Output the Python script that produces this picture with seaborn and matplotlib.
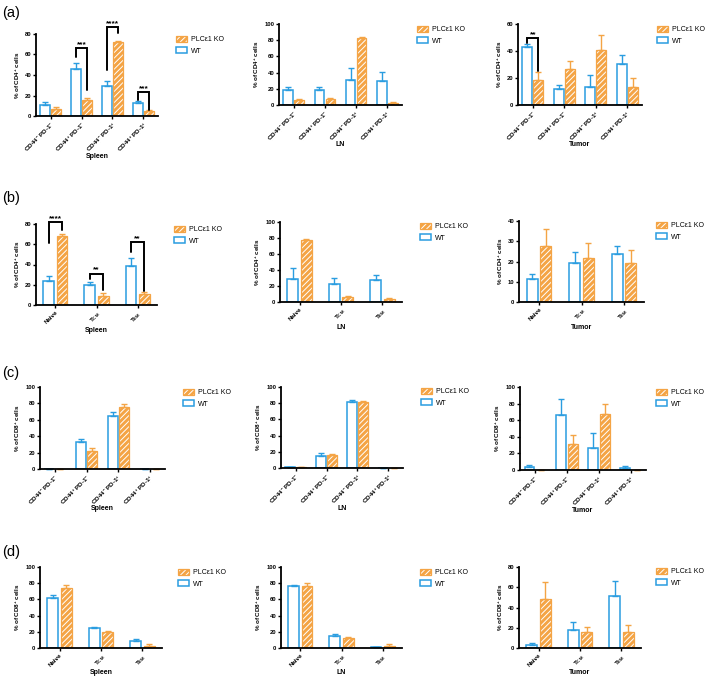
import matplotlib
matplotlib.use('Agg')
import matplotlib.pyplot as plt
import matplotlib.colors as mcolors
from matplotlib.patches import Patch
import numpy as np
import pandas as pd
import seaborn as sns

sns.set_style('ticks', {'axes.edgecolor': 'black', 'xtick.color': 'black', 'ytick.color': 'black',
                        'text.color': 'black', 'axes.labelcolor': 'black'})
plt.rcParams['font.family'] = ['Liberation Sans', 'DejaVu Sans']
plt.rcParams['mathtext.fontset'] = 'custom'
plt.rcParams['mathtext.rm'] = 'Liberation Sans'
plt.rcParams['mathtext.bf'] = 'Liberation Sans:bold'
plt.rcParams['mathtext.default'] = 'bf'
plt.rcParams['hatch.linewidth'] = 0.7

BLUE = '#2a9de0'
ORANGE = '#f4a445'

# categories
pd1_cats = [r'CD44$^{-}$ PD-1$^{-}$', r'CD44$^{+}$ PD-1$^{-}$',
            r'CD44$^{-}$ PD-1$^{+}$', r'CD44$^{+}$ PD-1$^{+}$']
tcell_cats = ['Naive', r'T$_{CM}$', r'T$_{EM}$']
groups = ['WT', 'PLCε1 KO']

# (a) CD4+ CD44/PD-1 subsets
a_spleen_wt = [10.5, 46, 29, 12.8]
a_spleen_wt_err = [3.3, 6, 5, 1.9]
a_spleen_ko = [7.2, 16, 71.8, 4.6]
a_spleen_ko_err = [1.6, 1.7, 1.2, 1]
a_ln_wt = [18.4, 18.9, 31, 29.5]
a_ln_wt_err = [3.7, 3.6, 15, 11.5]
a_ln_ko = [6.5, 7.4, 82.4, 2.9]
a_ln_ko_err = [1.3, 1.2, 1.2, 0.8]
a_tumor_wt = [43, 11.9, 13.6, 30.6]
a_tumor_wt_err = [2.2, 3, 8.4, 6.7]
a_tumor_ko = [18.3, 26.9, 40.7, 13.3]
a_tumor_ko_err = [6, 5.7, 10.9, 6.4]

# (b) CD4+ naive / memory
b_spleen_wt = [24.1, 19.8, 38.7]
b_spleen_wt_err = [4.7, 2.7, 7.3]
b_spleen_ko = [68.4, 9.3, 10.6]
b_spleen_ko_err = [2, 2.3, 2]
b_ln_wt = [28.9, 22.3, 26.9]
b_ln_wt_err = [13.2, 8.3, 6.6]
b_ln_ko = [78, 6.2, 3.3]
b_ln_ko_err = [1.3, 1.2, 1.2]
b_tumor_wt = [11.2, 19.3, 23.6]
b_tumor_wt_err = [2.4, 5.6, 4.1]
b_tumor_ko = [27.9, 21.5, 19.3]
b_tumor_ko_err = [8, 7.8, 6.3]

# (c) CD8+ CD44/PD-1 subsets
c_spleen_wt = [0, 33, 65, 0]
c_spleen_wt_err = [0, 3.3, 4, 0]
c_spleen_ko = [0.4, 21.8, 75.8, 0]
c_spleen_ko_err = [0, 4, 3.2, 0]
c_ln_wt = [1.2, 15.2, 81.6, 0.4]
c_ln_wt_err = [0.5, 2.8, 2.4, 0.2]
c_ln_ko = [0.8, 16, 82, 0.4]
c_ln_ko_err = [0.3, 0.8, 1.2, 0.2]
c_tumor_wt = [3.2, 66, 26, 2.4]
c_tumor_wt_err = [2.8, 19, 19, 2.4]
c_tumor_ko = [0.3, 31.5, 67.7, 0.3]
c_tumor_ko_err = [0, 11.2, 11.3, 0]

# (d) CD8+ naive / memory
d_spleen_wt = [62, 24.5, 8.6]
d_spleen_wt_err = [3.3, 2, 2.4]
d_spleen_ko = [74.3, 19.6, 2.4]
d_spleen_ko_err = [3.3, 2, 2]
d_ln_wt = [76.1, 14.8, 0.8]
d_ln_wt_err = [2, 2, 0.8]
d_ln_ko = [76.1, 12.3, 2.9]
d_ln_ko_err = [3.7, 1.3, 2]
d_tumor_wt = [2.9, 17.3, 51.6]
d_tumor_wt_err = [1.7, 8.5, 14.4]
d_tumor_ko = [48, 16, 15.4]
d_tumor_ko_err = [16.7, 5, 7.1]

# significance brackets: (category, bracket y, left leg end, right leg end, label)
a_spleen_sig = [(1, 66, 57.5, 25, '***'), (2, 87, 45, 81, '****'), (3, 23.5, 16, 6, '***')]
a_tumor_sig = [(0, 49.6, 46, 25, '**')]
b_spleen_sig = [(0, 82, 61, 74, '****'), (1, 31, 25.5, 15, '**'), (2, 62, 52, 14, '**')]

W, H = 709, 682
fig = plt.figure(figsize=(W / 100, H / 100), dpi=100)


def white_hatch(p, edge):
    p.set_edgecolor(edge)
    if hasattr(p, 'set_hatchcolor'):
        p.set_hatchcolor('white')
    else:
        p._hatch_color = mcolors.to_rgba('white')
    p.stale = True


def panel(rect, cats, wt, wt_err, ko, ko_err, ymax, ystep, tissue, ylab, leg, sig=()):
    l, r, t, b = rect
    ax = fig.add_axes([l / W, 1 - b / H, (r - l) / W, (b - t) / H])
    n = len(cats)
    df = pd.DataFrame({'cat': cats * 2, 'group': [groups[0]] * n + [groups[1]] * n, 'val': wt + ko})
    sns.barplot(data=df, x='cat', y='val', hue='group', order=cats, hue_order=groups,
                palette=[BLUE, ORANGE], saturation=1, errorbar=None, legend=False,
                width=0.7 if n == 4 else 0.65, gap=0.12 if n == 4 else 0.2, ax=ax)
    for p in ax.containers[0]:
        p.set_facecolor('white')
        p.set_edgecolor(BLUE)
        p.set_linewidth(1.1)
    for p in ax.containers[1]:
        p.set_hatch('//////')
        p.set_linewidth(0.9)
        white_hatch(p, ORANGE)

    xw = [p.get_x() + p.get_width() / 2 for p in ax.containers[0]]
    xk = [p.get_x() + p.get_width() / 2 for p in ax.containers[1]]
    ax.errorbar(xw, wt, yerr=[np.zeros(n), wt_err], fmt='none', ecolor=BLUE,
                elinewidth=1, capsize=2.5, capthick=1, clip_on=False)
    ax.errorbar(xk, ko, yerr=[np.zeros(n), ko_err], fmt='none', ecolor=ORANGE,
                elinewidth=1, capsize=2.5, capthick=1, clip_on=False)

    for ci, yl, y1, y2, txt in sig:
        ax.plot([xw[ci], xw[ci], xk[ci], xk[ci]], [y1, yl, yl, y2], color='black', lw=1.4,
                clip_on=False, solid_joinstyle='miter')
        ax.text((xw[ci] + xk[ci]) / 2, yl, txt, ha='center', va='bottom', fontsize=6,
                fontweight='bold', clip_on=False)

    ax.set_xlim(-0.47, n - 1 + 0.47)
    ax.set_ylim(0, ymax)
    ax.set_yticks(np.arange(0, ymax + 1, ystep))
    sns.despine(ax=ax)
    for s in ['left', 'bottom']:
        ax.spines[s].set_linewidth(1.3)
    ax.tick_params(axis='both', direction='out', length=2.5, width=1, labelsize=4.2, pad=1)
    for lbl in ax.get_yticklabels():
        lbl.set_fontweight('bold')
    ax.set_xticks(range(n))
    ax.set_xticklabels(cats, rotation=45, ha='right', rotation_mode='anchor',
                       fontweight='bold', fontsize=4.5)
    ax.set_ylabel(ylab, fontsize=4.5, fontweight='bold', labelpad=2)
    ax.set_xlabel(tissue, fontsize=5, fontweight='bold')
    ax.xaxis.label.set_va('center')
    off = 40 if n == 4 else 25
    ax.xaxis.set_label_coords(0.5, -off / (b - t))

    h_ko = Patch(facecolor=ORANGE, hatch='//////', lw=0.9)
    h_wt = Patch(facecolor='white', edgecolor=BLUE, lw=1.1)
    lg = ax.legend([h_ko, h_wt], [groups[1], groups[0]], loc='upper left',
                   bbox_to_anchor=(leg[0] / W, 1 - (leg[1] - 4) / H), bbox_transform=fig.transFigure,
                   frameon=False, fontsize=5, handlelength=1.6, handleheight=0.85,
                   handletextpad=0.55, labelspacing=0.6, borderpad=0, borderaxespad=0)
    white_hatch(lg.get_patches()[0], ORANGE)
    return ax


cd4 = r'% of CD4$^{+}$ cells'
cd8 = r'% of CD8$^{+}$ cells'

# row (a)
panel((36, 158, 34, 116), pd1_cats, a_spleen_wt, a_spleen_wt_err, a_spleen_ko, a_spleen_ko_err,
      80, 20, 'Spleen', cd4, (176, 40), a_spleen_sig)
panel((279, 402, 24, 105), pd1_cats, a_ln_wt, a_ln_wt_err, a_ln_ko, a_ln_ko_err,
      100, 20, 'LN', cd4, (417, 30))
panel((518, 642, 24, 105), pd1_cats, a_tumor_wt, a_tumor_wt_err, a_tumor_ko, a_tumor_ko_err,
      60, 20, 'Tumor', cd4, (657, 30), a_tumor_sig)

# row (b)
panel((36, 157, 224, 305), tcell_cats, b_spleen_wt, b_spleen_wt_err, b_spleen_ko, b_spleen_ko_err,
      80, 20, 'Spleen', cd4, (174, 230), b_spleen_sig)
panel((280, 402, 222, 302), tcell_cats, b_ln_wt, b_ln_wt_err, b_ln_ko, b_ln_ko_err,
      100, 20, 'LN', cd4, (420, 227))
panel((519, 644, 221, 302), tcell_cats, b_tumor_wt, b_tumor_wt_err, b_tumor_ko, b_tumor_ko_err,
      40, 10, 'Tumor', cd4, (656, 226))

# row (c)
panel((40, 165, 387, 469), pd1_cats, c_spleen_wt, c_spleen_wt_err, c_spleen_ko, c_spleen_ko_err,
      100, 20, 'Spleen', cd8, (183, 393))
panel((281, 403, 387, 468), pd1_cats, c_ln_wt, c_ln_wt_err, c_ln_ko, c_ln_ko_err,
      100, 20, 'LN', cd8, (421, 392))
panel((520, 646, 387, 470), pd1_cats, c_tumor_wt, c_tumor_wt_err, c_tumor_ko, c_tumor_ko_err,
      100, 20, 'Tumor', cd8, (656, 393))

# row (d)
panel((40, 162, 567, 648), tcell_cats, d_spleen_wt, d_spleen_wt_err, d_spleen_ko, d_spleen_ko_err,
      100, 20, 'Spleen', cd8, (178, 573))
panel((281, 402, 567, 648), tcell_cats, d_ln_wt, d_ln_wt_err, d_ln_ko, d_ln_ko_err,
      100, 20, 'LN', cd8, (420, 573))
panel((519, 641, 567, 648), tcell_cats, d_tumor_wt, d_tumor_wt_err, d_tumor_ko, d_tumor_ko_err,
      80, 20, 'Tumor', cd8, (656, 572))

for lab, y in [('(a)', 13), ('(b)', 198), ('(c)', 373), ('(d)', 552)]:
    fig.text(2 / W, 1 - y / H, lab, fontsize=10.5, va='center', ha='left')

fig.savefig('out.png', dpi=100)
